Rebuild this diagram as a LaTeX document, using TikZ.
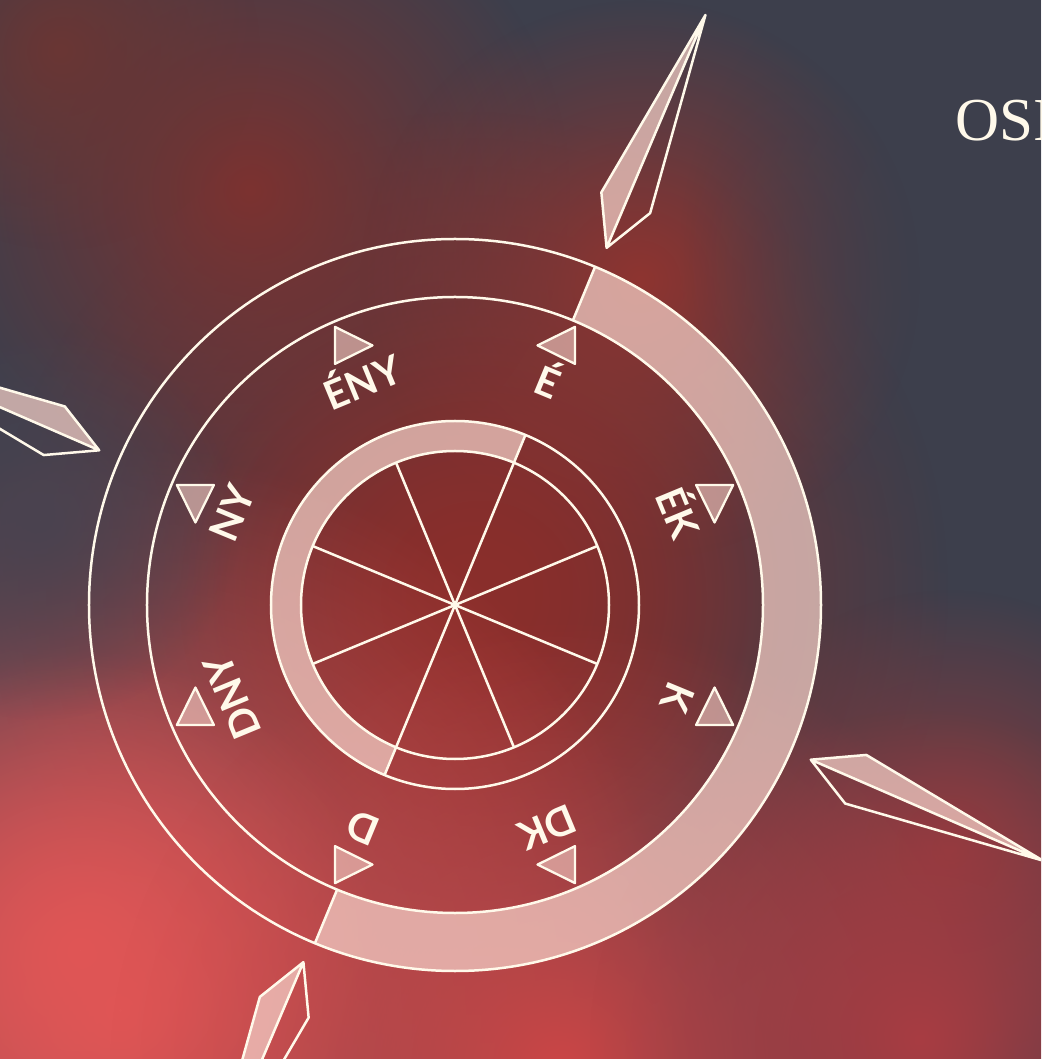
\documentclass[tikz,border=0pt]{standalone}
\usepackage{fontspec}
\setmainfont{Liberation Serif}
\newfontfamily\lblfont{Lato}
\usetikzlibrary{fadings}
\definecolor{slate}{HTML}{3D3F4C}
\definecolor{linecol}{HTML}{FFF9EA}
\definecolor{bandcol}{HTML}{F4D0C8}
\definecolor{bgA}{HTML}{8A2E2B}
\definecolor{bgB}{HTML}{7C3230}
\definecolor{bgC}{HTML}{8E3430}
\definecolor{bgD}{HTML}{E05656}
\definecolor{bgE}{HTML}{CC4646}
\definecolor{bgF}{HTML}{A83C42}
\definecolor{bgG}{HTML}{4A4350}
\definecolor{bgH}{HTML}{6A3634}
\definecolor{bgI}{HTML}{8A3A3E}
\tikzfading[name=blobfade, inner color=transparent!0, outer color=transparent!100]
\newcommand\blob[4]{\fill[#4, path fading=blobfade] (#1,#2) circle[radius=#3];}
\newcommand\compneedle[2]{%
  \begin{scope}[rotate=#1]
    \fill[band] (388,0) -- (437,#2*26.5) -- (641,0) -- cycle;
    \draw[ln, line join=round] (388,0) -- (437,26.5) -- (641,0) -- (437,-26.5) -- cycle
         (388,0) -- (641,0);
  \end{scope}}
\begin{document}
\begin{tikzpicture}[x=1pt, y=1pt,
  ln/.style={draw=linecol, line width=2.5pt},
  band/.style={fill=bandcol, fill opacity=0.72},
  tri/.style={fill=bandcol, fill opacity=0.6, draw=linecol, draw opacity=1, line width=2.3pt, line join=round},
  lbl/.style={text=linecol, inner sep=0pt, text height=29pt, text depth=0pt,
    font=\lblfont\bfseries\fontsize{40}{40}\selectfont}]
\useasboundingbox (-455,-454) rectangle (586,605);
\clip (-455,-454) rectangle (586,605);
% ---------- background ----------
\fill[slate] (-455,-454) rectangle (586,605);
\begin{scope}[shift={(-455,605)}, yscale=-1]
  \blob{470}{590}{480}{bgA}
  \blob{480}{600}{300}{bgA}
  \blob{250}{190}{320}{bgB}
  \blob{640}{280}{280}{bgC}
  \blob{950}{850}{260}{bgI}
  \blob{120}{1010}{560}{bgD}
  \blob{80}{950}{300}{bgD}
  \blob{560}{1070}{450}{bgE}
  \blob{920}{1040}{330}{bgF}
  \blob{1010}{250}{330}{slate}
  \blob{40}{520}{200}{bgG}
  \blob{60}{50}{200}{bgH}
\end{scope}
% ---------- compass ----------
\coordinate (c) at (0,0);
\fill[band] (67.5:366) arc[start angle=67.5, end angle=-112.5, radius=366]
  -- (-112.5:308) arc[start angle=-112.5, end angle=67.5, radius=308] -- cycle;
\fill[band] (67.5:184) arc[start angle=67.5, end angle=247.5, radius=184]
  -- (247.5:154) arc[start angle=247.5, end angle=67.5, radius=154] -- cycle;
\draw[ln] (c) circle[radius=366];
\draw[ln] (c) circle[radius=308];
\draw[ln] (c) circle[radius=184];
\draw[ln] (c) circle[radius=154];
\draw[ln] (67.5:308) -- (67.5:366) (247.5:308) -- (247.5:366)
          (67.5:154) -- (67.5:184) (247.5:154) -- (247.5:184);
\foreach \a in {22.5,67.5,112.5,157.5}
  \draw[ln] (\a:154) -- (\a+180:154);
% ---------- labels and markers ----------
\foreach \a/\t/\d/\n in {67.5/É/180/e, 22.5/ÉK/-90/ek, -22.5/K/90/k, -67.5/DK/180/dk,
    -112.5/D/0/d, -157.5/DNY/90/dny, 157.5/NY/-90/ny, 112.5/ÉNY/0/eny}{
  \node[lbl, rotate=\a-90] (l\n) at (\a:241) {\t};
  \draw[tri, shift={(\a:281)}, rotate=\d] (25,0) -- (-12.5,18.5) -- (-12.5,-18.5) -- cycle;
}
% ---------- needles ----------
\compneedle{67}{1}
\compneedle{-23.5}{1}
\compneedle{156.5}{-1}
\compneedle{247}{-1}
% ---------- title ----------
\node[anchor=base west, text=linecol, inner sep=0pt, font=\fontsize{61}{61}\selectfont] (title) at (500,464) {OSI};
\end{tikzpicture}
\end{document}
